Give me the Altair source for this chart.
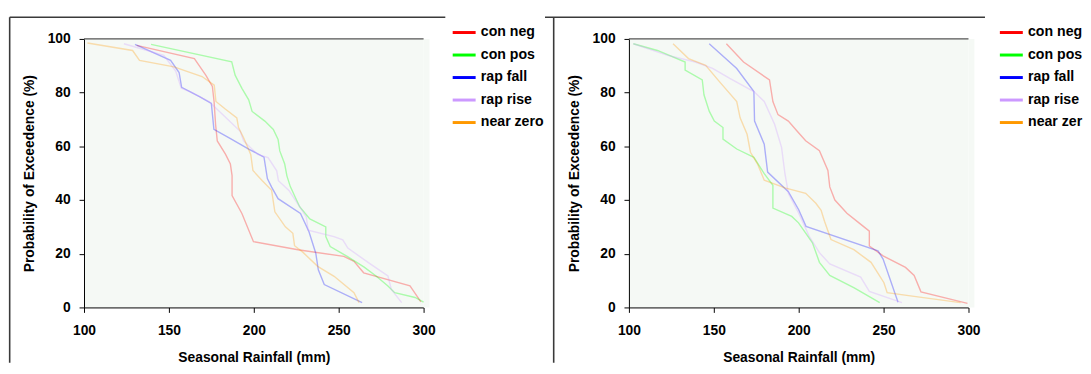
import altair as alt
import pandas as pd

SERIES = ["con neg", "con pos", "rap fall", "rap rise", "near zero"]
COLORS = ["#ff0000", "#00ff00", "#0000ff", "#cc99ff", "#ff9900"]
X_TICKS = [100, 150, 200, 250, 300]
Y_TICKS = [0, 20, 40, 60, 80, 100]

# ---------------- left panel ----------------
L_con_neg_mm = [131, 165, 171.7, 175.6, 176.6, 177.5, 178.5, 183.3, 186.2, 187.2, 187.2, 193, 199.8, 226, 253, 259, 264.7, 292, 298.4]
L_con_neg_p = [97.6, 92.7, 86.5, 82.3, 76.7, 68.1, 62, 57.1, 53.4, 49.1, 41.7, 35, 24.5, 21.5, 19, 17.2, 12.9, 8, 2.1]

L_con_pos_mm = [139.5, 187, 189, 193, 197, 199, 206.5, 211.5, 214.3, 215.3, 218.2, 219.5, 221.5, 227, 233, 242.4, 242.4, 245, 255, 265, 272, 279, 283, 295, 300]
L_con_pos_p = [98, 91.5, 86.5, 81.6, 77.3, 73, 69.4, 66.3, 62.6, 58.3, 53.4, 49, 45, 37.5, 33, 30, 26.4, 22.7, 19, 15, 11.7, 8, 5.5, 3.7, 2]

L_rap_fall_mm = [130, 151, 156, 157.5, 168, 175, 176.5, 186, 197, 206, 208, 210.5, 214.3, 227.5, 232.5, 236.5, 238, 241.5, 263.8]
L_rap_fall_p = [98, 92, 87.5, 82, 78.5, 76, 66.3, 63, 59, 56, 48, 44.8, 40.5, 35, 28.2, 20.2, 14, 8.5, 1.8]

L_rap_rise_mm = [123.5, 147, 154, 157.3, 162.4, 173.6, 181.8, 192, 194, 202.2, 208.4, 213.5, 214.5, 220.7, 225.8, 230.9, 232, 247.2, 252.4, 255.4, 267.7, 279, 281, 287.1]
L_rap_rise_p = [98.2, 93.9, 88, 81.6, 80.4, 76.7, 71.8, 65.6, 62, 57, 55.8, 50.9, 47.2, 43.6, 38.7, 33.7, 28.8, 26.4, 25.2, 22.1, 16.6, 11.7, 6.7, 1.8]

L_near_zero_mm = [102, 128.6, 132.7, 153, 169.5, 176.7, 177.7, 183, 190, 191, 194, 198.2, 199.5, 205, 210.5, 212.4, 218.6, 223, 224, 229, 237.6, 247.3, 259, 262]
L_near_zero_p = [98.5, 95.7, 92, 89.6, 86, 82.8, 76.7, 74, 70.6, 67, 63.2, 57, 51, 47.2, 43.6, 35.6, 30, 27.6, 23, 20.5, 15.3, 11.6, 5.5, 1.8]

# ---------------- right panel ----------------
R_con_neg_mm = [157.4, 167.5, 182.8, 184.8, 187.8, 193.9, 199, 204.1, 212.2, 217.2, 218.3, 221.3, 228.4, 235.5, 241.6, 241.6, 249.7, 262.9, 268, 272, 299.4]
R_con_neg_p = [98.2, 91.4, 84.7, 76.7, 71.8, 69.4, 65.7, 62.1, 58.4, 51, 44.9, 40, 35.1, 31.5, 28.4, 22.9, 19.2, 14.9, 11.9, 5.8, 1.5]

R_con_pos_mm = [102.6, 116.8, 133.1, 133.1, 143.2, 144.2, 147.3, 150.3, 155.4, 155.4, 163.5, 173.6, 179.7, 184.8, 184.8, 195.9, 199.9, 208.1, 212.2, 218.3, 232.7, 247.7]
R_con_pos_p = [98.2, 95.7, 91.4, 88.4, 84.7, 79.2, 73.1, 69.4, 67, 62.7, 59, 55.9, 49.8, 45.5, 37, 33.9, 31.5, 24.1, 16.8, 11.9, 7.3, 1.8]

R_rap_fall_mm = [147.3, 163.5, 173.6, 174, 179.7, 181.7, 193.9, 200, 204.3, 246.7, 249.7, 258.5]
R_rap_fall_p = [98.2, 89, 80.4, 69.4, 60.8, 50.4, 43.1, 36.4, 30.2, 21.1, 18, 1.9]

R_rap_rise_mm = [102.6, 122.9, 139.1, 149.3, 159.4, 173.6, 179.7, 185.8, 189.9, 191.9, 193.9, 200, 206.1, 212.2, 218.3, 236.5, 241.6, 260.8]
R_rap_rise_p = [98.2, 93.9, 91.4, 89, 85.3, 80.4, 76.7, 68.2, 59.6, 49.8, 42.5, 35.1, 26.6, 20.4, 16.2, 11.3, 6, 1.8]

R_near_zero_mm = [126, 135.1, 145.2, 153.3, 163.5, 165.5, 169.6, 171.6, 175.7, 179.7, 191.9, 204.1, 210.1, 213.2, 215.2, 219, 232.5, 242.6, 250.2, 252.1, 265.8, 295.3]
R_near_zero_p = [98.2, 92.7, 90.2, 84.1, 76.7, 70.6, 64.5, 57.8, 53.5, 47.4, 44.5, 42.5, 38.8, 36.2, 32.1, 25.3, 21.5, 16.8, 9.2, 5.5, 4.3, 1.8]

LEFT = [(SERIES[0], L_con_neg_mm, L_con_neg_p), (SERIES[1], L_con_pos_mm, L_con_pos_p),
        (SERIES[2], L_rap_fall_mm, L_rap_fall_p), (SERIES[3], L_rap_rise_mm, L_rap_rise_p),
        (SERIES[4], L_near_zero_mm, L_near_zero_p)]
RIGHT = [(SERIES[0], R_con_neg_mm, R_con_neg_p), (SERIES[1], R_con_pos_mm, R_con_pos_p),
         (SERIES[2], R_rap_fall_mm, R_rap_fall_p), (SERIES[3], R_rap_rise_mm, R_rap_rise_p),
         (SERIES[4], R_near_zero_mm, R_near_zero_p)]


def table(groups):
    rows = []
    for name, xs, ys in groups:
        for i, (a, b) in enumerate(zip(xs, ys)):
            rows.append({"series": name, "mm": a, "p": b, "i": i})
    return pd.DataFrame(rows)


W, H = 344, 272
FONT = "Liberation Sans"
FRAME = "#3a3a3a"
BG = "#f5f9f5"
one = pd.DataFrame({"k": [0]})


def panel(groups, frame_left, top_x2, legend_x, label_expr=None, right_anchor=None, white=None):
    df = table(groups)
    legend_kw = dict(orient="none", legendX=legend_x, legendY=-20, title=None,
                     symbolType="stroke", symbolSize=540, symbolStrokeWidth=3,
                     symbolOpacity=1, labelFont=FONT, labelFontSize=14.3,
                     labelFontWeight="bold", labelColor="black",
                     rowPadding=1.8, labelOffset=3.4, padding=0)
    if label_expr is not None:
        legend_kw["labelExpr"] = label_expr
    lines = alt.Chart(df).mark_line(strokeWidth=1.4, opacity=0.3).encode(
        x=alt.X("mm:Q", scale=alt.Scale(domain=[100, 300], nice=False, zero=False),
                axis=alt.Axis(values=X_TICKS, title="Seasonal Rainfall (mm)", labelFlush=False,
                              labelPadding=11, titlePadding=14)),
        y=alt.Y("p:Q", scale=alt.Scale(domain=[0, 100], nice=False),
                axis=alt.Axis(values=Y_TICKS, title="Probability of Exceedence (%)",
                              labelPadding=9, titlePadding=11)),
        color=alt.Color("series:N", scale=alt.Scale(domain=SERIES, range=COLORS),
                        legend=alt.Legend(**legend_kw)),
        order="i:Q",
    )
    layers = []
    if white is not None:
        layers.append(alt.Chart(one).mark_rect(color="white").encode(
            x=alt.value(white), x2=alt.value(frame_left), y=alt.value(-23), y2=alt.value(328)))
    # invisible anchor that fixes each panel's outer bounds
    anchor = alt.Chart(one).mark_rule(opacity=0, strokeWidth=1).encode(
        x=alt.value(0), x2=alt.value(right_anchor if right_anchor is not None else 1), y=alt.value(-29))
    bg_ext = alt.Chart(one).mark_rect(color=BG).encode(
        x=alt.value(W), x2=alt.value(W + 6), y=alt.value(0), y2=alt.value(H))
    top_rule = alt.Chart(one).mark_rule(color="#555555", strokeWidth=1.2).encode(
        x=alt.value(0), x2=alt.value(W), y=alt.value(0))
    frame_top = alt.Chart(one).mark_rule(color=FRAME, strokeWidth=1.4).encode(
        x=alt.value(white if white is not None else frame_left), x2=alt.value(top_x2), y=alt.value(-22))
    frame_side = alt.Chart(one).mark_rule(color=FRAME, strokeWidth=1.6).encode(
        x=alt.value(frame_left), y=alt.value(-22), y2=alt.value(328))
    layers += [anchor, bg_ext, lines, top_rule, frame_top, frame_side]
    return alt.layer(*layers).properties(width=W, height=H)


left = panel(LEFT, -75.3, 366, 371.6, right_anchor=462)
# the right legend runs off the edge of the picture, so its last label shows only "near zer"
right = panel(RIGHT, -76.2, 360.7, 373.9,
              label_expr="datum.label == 'near zero' ? 'near zer' : datum.label", white=-85)

chart = alt.hconcat(left, right, spacing=0).resolve_scale(color="independent").resolve_legend(
    color="independent"
).properties(
    padding={"left": 0, "top": 0, "right": 0, "bottom": 0}
).configure_view(
    fill=BG, stroke=None
).configure_axis(
    labelFont=FONT, labelFontSize=14, labelFontWeight="bold", labelColor="black",
    titleFont=FONT, titleFontSize=14, titleFontWeight="bold", titleColor="black",
    domainColor="black", tickColor="black", tickSize=5, grid=False, labelOverlap=False
)

chart.save("out.html", embed_options={"renderer": "svg", "actions": False})
